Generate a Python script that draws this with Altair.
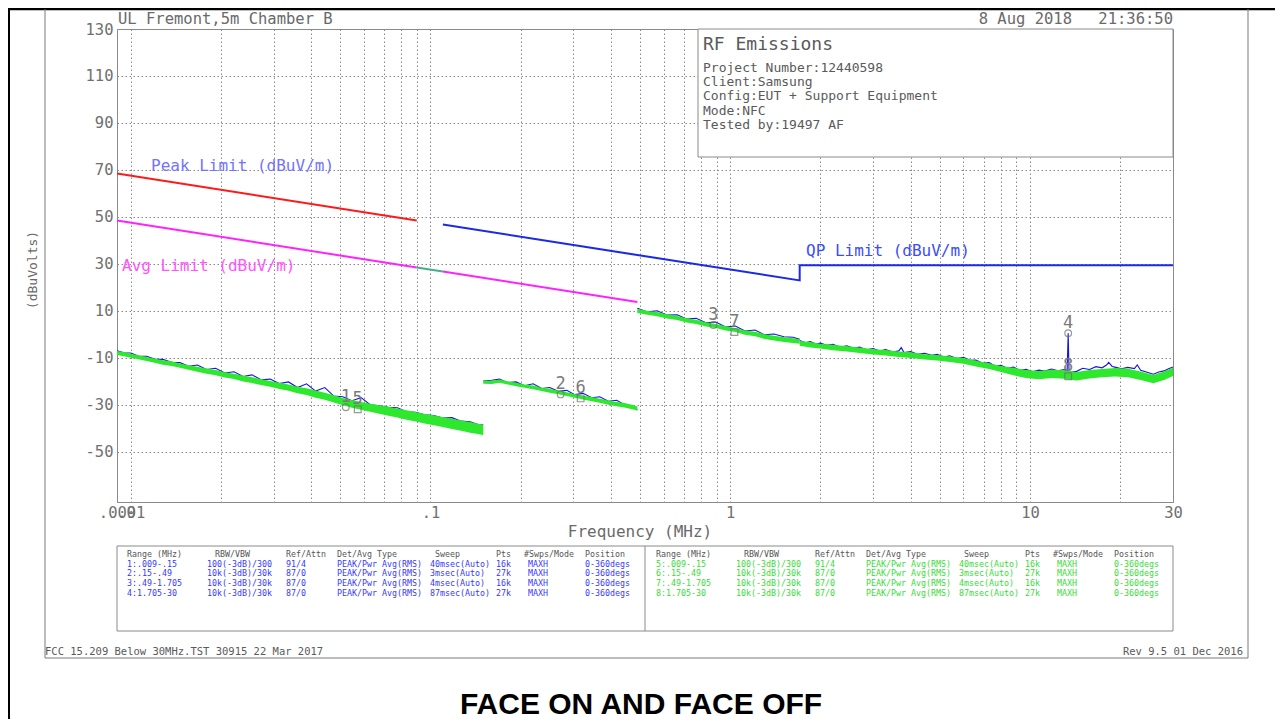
import altair as alt
import pandas as pd

# ---------------- data ----------------
# Segment 1: 0.009-0.15 MHz
seg1_f = [0.0090,0.0095,0.0100,0.0106,0.0113,0.0120,0.0128,0.0137,0.0146,0.0156,0.0167,0.0179,0.0192,0.0206,0.0221,0.0237,0.0254,0.0272,0.0292,0.0313,0.0336,0.0360,0.0386,0.0414,0.0444,0.0476,0.0510,0.0547,0.0587,0.0629,0.0675,0.0724,0.0776,0.0832,0.0892,0.0957,0.1026,0.1100,0.1180,0.1265,0.1357,0.1455,0.1500]
seg1_hi = [-7.0,-7.5,-8.2,-8.8,-9.6,-10.2,-11.0,-11.4,-12.4,-13.1,-13.7,-14.5,-15.1,-16.1,-16.7,-17.6,-18.2,-19.0,-19.8,-20.5,-21.3,-22.2,-22.9,-23.9,-24.8,-25.9,-27.0,-27.9,-28.7,-29.5,-30.1,-30.8,-31.5,-32.3,-33.0,-33.8,-34.4,-35.2,-35.9,-36.6,-37.3,-38.1,-38.4]
seg1_lo = [-8.7,-9.3,-9.9,-10.6,-11.3,-12.0,-12.9,-13.4,-14.2,-15.0,-15.9,-16.7,-17.4,-18.3,-19.0,-20.0,-20.7,-21.5,-22.3,-23.2,-24.0,-25.0,-25.8,-26.9,-27.8,-29.0,-30.1,-31.2,-32.0,-32.9,-33.7,-34.6,-35.3,-36.3,-37.0,-37.9,-38.6,-39.4,-40.2,-41.0,-41.8,-42.5,-42.9]
seg1_blue = [-6.9,-7.8,-7.9,-9.2,-9.3,-10.5,-10.6,-11.8,-12.0,-13.5,-13.0,-14.9,-14.4,-16.4,-15.9,-17.9,-17.2,-19.3,-19.0,-20.9,-20.2,-22.6,-21.0,-24.1,-22.6,-26.2,-26.5,-28.2,-26.9,-29.9,-30.4,-31.0,-31.2,-32.9,-33.1,-34.2,-34.5,-35.6,-35.4,-36.9,-37.2,-38.5,-38.4]

# Segment 2: 0.15-0.49 MHz
seg2_f = [0.150,0.160,0.170,0.181,0.193,0.206,0.220,0.235,0.250,0.267,0.285,0.303,0.323,0.345,0.367,0.392,0.418,0.444,0.474,0.490]
seg2_hi = [-19.6,-19.7,-19.2,-19.9,-20.6,-21.3,-21.7,-22.7,-23.2,-23.9,-24.6,-25.3,-26.1,-26.6,-27.4,-28.1,-28.7,-29.2,-30.0,-30.7]
seg2_lo = [-21.0,-21.1,-20.6,-21.3,-22.0,-22.7,-23.3,-24.1,-24.8,-25.4,-26.2,-26.9,-27.7,-28.4,-29.1,-29.9,-30.5,-31.1,-31.9,-32.4]
seg2_blue = [-19.8,-19.5,-19.0,-20.5,-20.2,-21.8,-21.0,-23.0,-22.6,-24.2,-23.8,-25.6,-25.0,-26.9,-26.5,-28.4,-28.0,-29.9,-30.6,-32.2]

# Segment 3: 0.49-1.705 MHz
seg3_f = [0.490,0.530,0.570,0.615,0.665,0.715,0.770,0.830,0.895,0.965,1.040,1.120,1.210,1.300,1.400,1.510,1.620,1.705]
seg3_hi = [10.9,10.0,9.6,8.6,7.9,6.9,6.3,5.2,4.5,3.5,2.8,1.7,1.2,0.1,-0.6,-1.2,-1.6,-2.0]
seg3_lo = [9.1,8.4,7.8,6.8,6.2,5.1,4.5,3.4,2.7,1.7,1.0,-0.1,-0.8,-1.9,-2.6,-3.2,-3.6,-4.0]
seg3_blue = [11.2,9.6,10.1,8.3,8.4,6.6,6.9,5.0,5.3,3.2,3.6,1.5,1.9,-0.1,0.2,-1.0,-1.2,-2.1]

# Segment 4: 1.705-30 MHz
seg4_f = [1.705,1.85,2.00,2.20,2.45,2.70,3.00,3.30,3.65,4.00,4.45,4.90,5.40,6.00,6.60,7.30,8.00,8.80,9.70,10.7,11.8,13.0,14.3,15.8,17.4,19.2,21.2,23.4,25.8,28.0,30.0]
seg4_hi = [-2.8,-3.2,-3.9,-4.4,-5.0,-5.6,-6.3,-6.6,-7.3,-7.6,-8.4,-8.7,-9.4,-10.0,-11.2,-12.3,-13.4,-14.2,-15.1,-15.5,-15.0,-15.2,-16.0,-15.1,-14.7,-14.3,-14.6,-15.8,-17.2,-15.8,-14.1]
seg4_lo = [-4.8,-5.5,-6.0,-6.7,-7.3,-7.9,-8.5,-9.0,-9.6,-10.0,-10.7,-11.1,-11.7,-12.5,-13.6,-14.7,-16.0,-17.4,-18.5,-19.1,-18.5,-18.8,-19.6,-18.7,-18.2,-17.9,-18.2,-19.4,-20.8,-19.4,-17.7]
seg4_blue_f = [1.705,1.78,1.85,1.93,2.00,2.10,2.20,2.32,2.45,2.58,2.70,2.85,3.00,3.15,3.30,3.48,3.65,3.72,3.80,4.00,4.22,4.45,4.70,4.90,5.15,5.40,5.70,6.00,6.30,6.60,6.95,7.30,7.65,8.00,8.40,8.80,9.25,9.70,10.2,10.7,11.2,11.8,12.4,13.0,13.3,13.41,13.5,14.3,15.0,15.8,16.6,17.4,18.0,18.3,18.8,19.2,20.2,21.2,22.3,22.8,23.4,24.6,25.8,26.9,28.0,29.0,30.0]
seg4_blue = [-2.6,-3.5,-3.0,-4.1,-3.7,-4.6,-4.2,-5.3,-4.8,-5.9,-5.4,-6.5,-6.0,-7.0,-6.4,-7.5,-7.0,-5.6,-7.7,-7.3,-8.4,-8.0,-8.9,-8.4,-9.6,-9.1,-10.2,-9.7,-11.0,-10.9,-12.3,-12.0,-13.4,-13.1,-14.4,-13.9,-15.3,-14.8,-15.9,-15.2,-15.6,-14.7,-15.5,-14.9,-16.0,0.5,-16.2,-15.7,-14.4,-14.9,-13.7,-14.2,-13.0,-11.9,-13.6,-13.9,-14.6,-14.0,-14.5,-13.0,-15.2,-16.1,-16.9,-16.0,-15.5,-14.6,-13.8]

# Limit lines
peak_lim_f = [0.009, 0.09]
peak_lim_db = [68.5, 48.5]
avg_lim1_f = [0.009, 0.09]
avg_lim1_db = [48.5, 28.5]
qp_band_f = [0.09, 0.11]
qp_band_db = [28.5, 26.8]
avg_lim2_f = [0.11, 0.49]
avg_lim2_db = [26.8, 13.8]
qp_lim_f = [0.11, 0.49, 1.705, 1.705, 30.0]
qp_lim_db = [46.8, 33.8, 23.0, 29.5, 29.5]

# Markers
marker_num = ["1", "2", "3", "4", "5", "6", "7", "8"]
marker_f = [0.0522, 0.2718, 0.879, 13.41, 0.0572, 0.317, 1.033, 13.41]
marker_db = [-31.0, -25.5, 4.0, 0.5, -31.8, -27.2, 1.0, -17.8]
marker_kind = ["pk", "pk", "pk", "pk", "av", "av", "av", "av"]

# Axis ticks
x_grid_vals = [0.009, 0.01, 0.02, 0.03, 0.04, 0.05, 0.06, 0.07, 0.08, 0.09,
               0.1, 0.2, 0.3, 0.4, 0.5, 0.6, 0.7, 0.8, 0.9,
               1, 2, 3, 4, 5, 6, 7, 8, 9, 10, 20, 30]
x_label_vals = [0.009, 0.01, 0.1, 1, 10, 30]
x_label_text = [".009", ".01", ".1", "1", "10", "30"]
y_tick_vals = [-50, -30, -10, 10, 30, 50, 70, 90, 110, 130]

# Texts
header_left = "UL Fremont,5m Chamber B"
header_date = "8 Aug 2018"
header_time = "21:36:50"
info_title = "RF Emissions"
info_lines = ["Project Number:12440598", "Client:Samsung", "Config:EUT + Support Equipment",
              "Mode:NFC", "Tested by:19497 AF"]
table_headers = ["Range (MHz)", "RBW/VBW", "Ref/Attn", "Det/Avg Type", "Sweep", "Pts", "#Swps/Mode", "Position"]
range_left = ["1:.009-.15", "2:.15-.49", "3:.49-1.705", "4:1.705-30"]
range_right = ["5:.009-.15", "6:.15-.49", "7:.49-1.705", "8:1.705-30"]
rbw_vbw = ["100(-3dB)/300", "10k(-3dB)/30k", "10k(-3dB)/30k", "10k(-3dB)/30k"]
ref_attn = ["91/4", "87/0", "87/0", "87/0"]
det_type = ["PEAK/Pwr Avg(RMS)"] * 4
sweep = ["40msec(Auto)", "3msec(Auto)", "4msec(Auto)", "87msec(Auto)"]
pts = ["16k", "27k", "16k", "27k"]
swps_mode = ["MAXH"] * 4
position = ["0-360degs"] * 4
footer_left = "FCC 15.209 Below 30MHz.TST 30915 22 Mar 2017"
footer_right = "Rev 9.5 01 Dec 2016"
big_title = "FACE ON AND FACE OFF"

# ---------------- tables ----------------
green_rows, blue_rows = [], []
for s, (fs, lo, hi) in enumerate([(seg1_f, seg1_lo, seg1_hi), (seg2_f, seg2_lo, seg2_hi),
                                  (seg3_f, seg3_lo, seg3_hi), (seg4_f, seg4_lo, seg4_hi)]):
    for f, a, b in zip(fs, lo, hi):
        green_rows.append({"f": f, "lo": a, "hi": b, "seg": s})
for s, (fs, vs) in enumerate([(seg1_f, seg1_blue), (seg2_f, seg2_blue),
                              (seg3_f, seg3_blue), (seg4_blue_f, seg4_blue)]):
    for i, (f, v) in enumerate(zip(fs, vs)):
        blue_rows.append({"f": f, "db": v, "seg": s, "i": i})
green_df = pd.DataFrame(green_rows)
blue_df = pd.DataFrame(blue_rows)

lim_rows = []
for name, fs, ds in [("peak", peak_lim_f, peak_lim_db), ("avg1", avg_lim1_f, avg_lim1_db),
                     ("band", qp_band_f, qp_band_db), ("avg2", avg_lim2_f, avg_lim2_db),
                     ("qp", qp_lim_f, qp_lim_db)]:
    for i, (f, d) in enumerate(zip(fs, ds)):
        lim_rows.append({"f": f, "db": d, "name": name, "i": i})
lim_df = pd.DataFrame(lim_rows)

mk_df = pd.DataFrame({"f": marker_f, "db": marker_db, "num": marker_num, "kind": marker_kind})

# ---------------- styling ----------------
MONO = "DejaVu Sans Mono"
OX, OY = 117, 29          # plot origin on the page
W, H = 1056, 473

label_expr = " : ".join(f"datum.value == {v} ? '{t}'" for v, t in zip(x_label_vals, x_label_text)) + " : ''"

X = alt.X("f:Q",
          scale=alt.Scale(type="log", domain=[0.009, 30], nice=False),
          axis=alt.Axis(values=x_grid_vals, labelExpr=label_expr, grid=True, gridDash=[1.5, 2.5],
                        gridColor="#8a8a8a", gridWidth=1, domain=False, ticks=False,
                        labelFont=MONO, labelFontSize=15.5, labelColor="#707070",
                        labelPadding=3, labelOverlap=False, labelFlush=False, labelBound=False,
                        title=None))
YAX = alt.Axis(values=y_tick_vals, labelExpr="'' + datum.value", grid=True, gridDash=[1.5, 2.5],
               gridColor="#8a8a8a", gridWidth=1, domain=False, ticks=False,
               labelFont=MONO, labelFontSize=15.5, labelColor="#707070", labelPadding=4,
               labelOverlap=False, labelFlush=False, labelBound=False, title=None)
YSC = alt.Scale(domain=[-71.3, 130], nice=False, zero=False)

dummy = alt.Data(values=[{"a": 1}])


def px(x):
    return x - OX


def py(y):
    return y - OY


def txt(s, x, y, size, color, align="left", font=MONO, angle=0, weight="normal",
        baseline="alphabetic", line_height=0):
    kw = dict(text=s, align=align, baseline=baseline, font=font, fontSize=size,
              color=color, angle=angle, fontWeight=weight)
    if line_height:
        kw["lineHeight"] = line_height
    return alt.Chart(dummy).mark_text(**kw).encode(x=alt.value(x), y=alt.value(y))


def rule(x1, y1, x2, y2, color, w=1):
    return alt.Chart(dummy).mark_rule(color=color, strokeWidth=w).encode(
        x=alt.value(x1), x2=alt.value(x2), y=alt.value(y1), y2=alt.value(y2))


def box(x1, y1, x2, y2, stroke="#8a8a8a"):
    return alt.Chart(dummy).mark_rect(fill="white", stroke=stroke, strokeWidth=1).encode(
        x=alt.value(x1), x2=alt.value(x2), y=alt.value(y1), y2=alt.value(y2))


# ---------------- data layers ----------------
blue_layer = alt.Chart(blue_df).mark_line(color="#1414e6", strokeWidth=1.1).encode(
    x=X, y=alt.Y("db:Q", scale=YSC, axis=YAX), detail="seg:N", order="i:Q")
green_layer = alt.Chart(green_df).mark_area(color="#2ee82e", opacity=1).encode(
    x=X, y=alt.Y("lo:Q", scale=YSC, axis=YAX), y2="hi:Q", detail="seg:N")
lim_layer = alt.Chart(lim_df).mark_line(strokeWidth=2).encode(
    x=X, y=alt.Y("db:Q", scale=YSC, axis=YAX),
    color=alt.Color("name:N", scale=alt.Scale(domain=["peak", "avg1", "band", "avg2", "qp"],
                                              range=["#ff1a1a", "#ff22ff", "#44b088", "#ff22ff", "#1a2ae8"]),
                    legend=None),
    detail="name:N", order="i:Q")
mk_points = alt.Chart(mk_df).mark_point(filled=False, size=45, strokeWidth=1.2, color="#6e6e6e").encode(
    x=X, y=alt.Y("db:Q", scale=YSC, axis=YAX),
    shape=alt.Shape("kind:N", scale=alt.Scale(domain=["pk", "av"], range=["circle", "square"]), legend=None))
mk_text = alt.Chart(mk_df).mark_text(dy=-5, baseline="alphabetic", font=MONO, fontSize=17,
                                     color="#7a7a7a").encode(
    x=X, y=alt.Y("db:Q", scale=YSC, axis=YAX), text="num:N")

layers = [blue_layer, green_layer, lim_layer, mk_points, mk_text]

# ---------------- frames & boxes ----------------
layers += [
    rule(px(9), py(8), px(9), py(727), "#000000", 2),
    rule(px(8), py(9), px(1283), py(9), "#000000", 2.5),
    rule(px(45), py(9), px(45), py(658), "#7a7a7a", 1),
    rule(px(45), py(658), px(1248), py(658), "#7a7a7a", 1),
    rule(px(1248), py(9), px(1248), py(658), "#7a7a7a", 1),
    box(px(698), py(29), px(1173), py(157)),
    box(px(117), py(546), px(1173), py(631)),
    rule(px(645), py(546), px(645), py(631), "#8a8a8a", 1),
]

# ---------------- texts ----------------
layers += [
    txt(header_left, px(118), py(24), 15.5, "#6a6a6a"),
    txt(header_date, px(1072), py(24), 15.5, "#6a6a6a", align="right"),
    txt(header_time, px(1173), py(24), 15.5, "#6a6a6a", align="right"),
    txt(info_title, px(703), py(50), 18, "#5a5a5a"),
    txt(info_lines, px(703), py(71.5), 13, "#5a5a5a", line_height=14.4),
    txt("Peak Limit (dBuV/m)", px(151), py(170.5), 16, "#7373ff"),
    txt("Avg Limit (dBuV/m)", px(122), py(270.5), 16, "#ff55ff"),
    txt("QP Limit (dBuV/m)", px(806), py(255.5), 16, "#3a4cff"),
    txt("Frequency (MHz)", px(640), py(537), 16, "#6a6a6a", align="center"),
    txt("(dBuVolts)", px(33), py(270), 13, "#6a6a6a", align="center", angle=270, baseline="middle"),
    txt(footer_left, px(45), py(655), 10.5, "#5a5a5a"),
    txt(footer_right, px(1243), py(655), 10.5, "#5a5a5a", align="right"),
    txt(big_title, px(641), py(714), 30, "#000000", align="center", font="Liberation Sans", weight="bold"),
]

head_x = [127, 215, 286, 337, 435, 496, 524, 585]
data_x = [127, 207, 286, 337, 430, 496, 528, 585]
panel_shift = 529
for p, (rng, col) in enumerate([(range_left, "#3838ff"), (range_right, "#38dc38")]):
    cols = [rng, rbw_vbw, ref_attn, det_type, sweep, pts, swps_mode, position]
    for j in range(8):
        layers.append(txt(table_headers[j], px(head_x[j] + p * panel_shift), py(556.5), 8.3, "#555555"))
        layers.append(txt(cols[j], px(data_x[j] + p * panel_shift), py(566.5), 8.3, col, line_height=9.9))

chart = alt.layer(*layers).properties(
    width=W, height=H,
    padding={"left": OX - 8, "top": OY - 8, "right": 102, "bottom": 217},
    autosize=alt.AutoSizeParams(type="none"),
    background="white",
).configure_view(stroke="#8a8a8a", strokeWidth=1)

chart.save("out.html", embed_options={"renderer": "svg", "actions": False})
